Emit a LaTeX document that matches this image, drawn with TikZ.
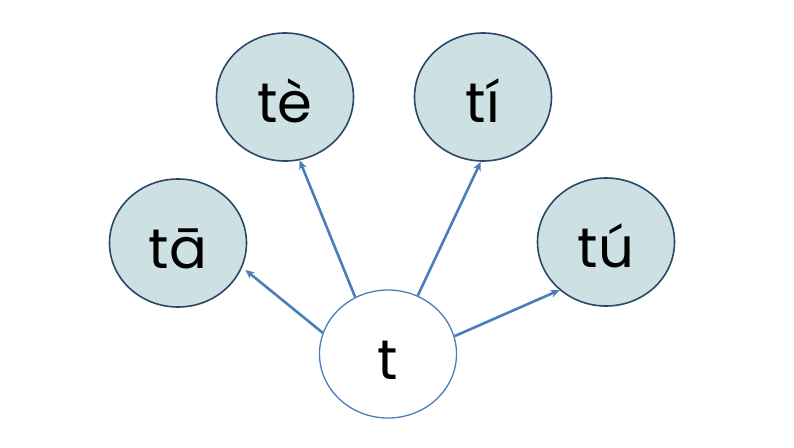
\documentclass[tikz,border=0pt]{standalone}
\usepackage{fontspec}
\setmainfont{Poppins}
\usepackage{tikz}
\usetikzlibrary{shapes.geometric}
\usetikzlibrary{arrows.meta}

\definecolor{syllfill}{HTML}{CDE1E5}
\definecolor{syllline}{HTML}{2B4666}
\definecolor{arrowblue}{HTML}{4A7EBB}

\tikzset{
  syll/.style={ellipse,draw=syllline,line width=1.6pt,fill=syllfill,
    minimum width=137pt,minimum height=128pt,inner sep=0pt,
    text height=50pt,text depth=0pt,
    font=\fontsize{56}{56}\selectfont},
  initial/.style={syll,draw=arrowblue,line width=1.3pt,fill=white},
  link/.style={arrowblue,line width=2.6pt,-{Stealth[length=9pt,width=8pt]}}
}

\begin{document}
\begin{tikzpicture}[x=1pt,y=-1pt]
\useasboundingbox (0,0) rectangle (794,447);

\node[syll]    (ta) at (178,243) {tā};
\node[syll]    (te) at (285,97)  {tè};
\node[syll]    (ti) at (483,97)  {tí};
\node[syll]    (tu) at (606,242) {tú};
\node[initial] (t)  at (388,354) {t};

\draw[link] (t.162) -- ([shift={(6pt,3pt)}]ta.-26);
\draw[link] (t.120) -- (te.-77);
\draw[link] (t.63)  -- (ti.-92);
\draw[link] (t.15)  -- (tu.-134);

\end{tikzpicture}
\end{document}
